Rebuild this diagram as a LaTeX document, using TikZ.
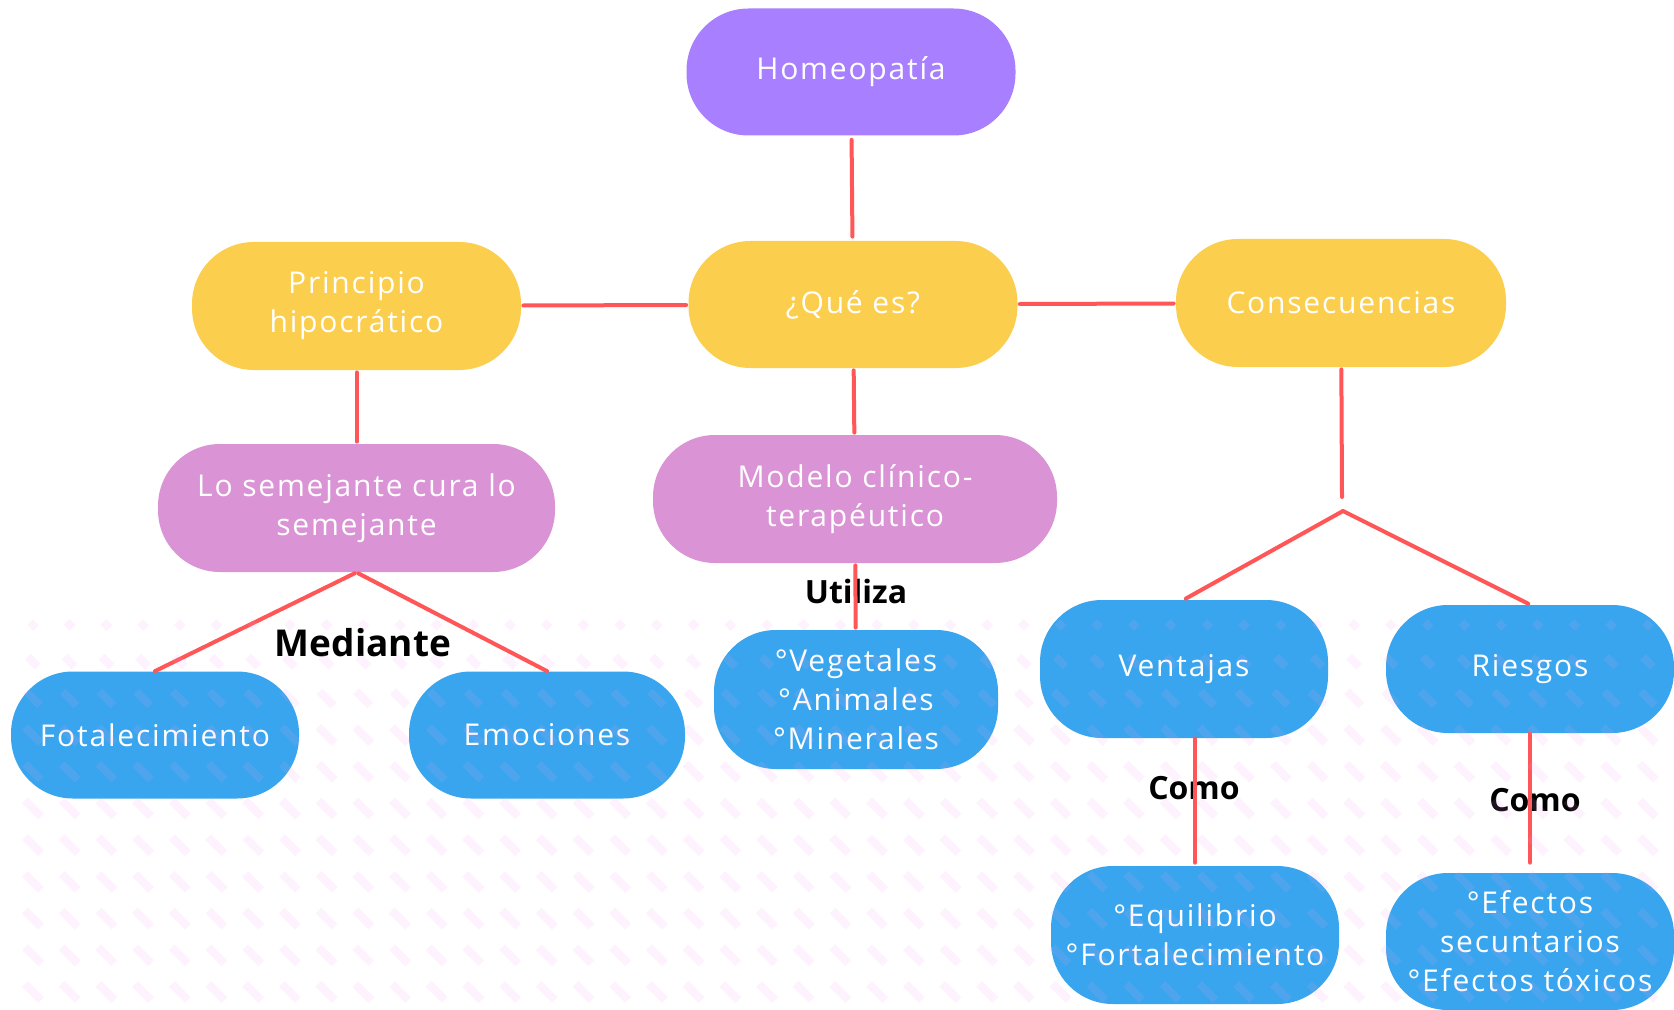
\documentclass[tikz,border=0pt]{standalone}
\usepackage{fontspec}
\setmainfont{Open Sans}[LetterSpace=6]
\newfontfamily\tagfont{Open Sans}
\usetikzlibrary{positioning}
\definecolor{homeocol}{RGB}{168,128,255}
\definecolor{yellowcol}{RGB}{251,206,77}
\definecolor{pinkcol}{RGB}{218,148,214}
\definecolor{bluecol}{RGB}{56,165,238}
\definecolor{linecol}{RGB}{255,87,87}
\definecolor{patcol}{RGB}{240,160,240}

\begin{document}
\begin{tikzpicture}[x=0.5pt,y=-0.5pt,
    pill/.style={rounded corners=31pt, text=white, align=center, inner sep=0pt,
      font=\fontsize{15}{19.5}\selectfont},
    link/.style={draw=linecol, line width=2pt, line cap=round},
    tag/.style={font=\tagfont\bfseries\fontsize{16}{18}\selectfont}]
                \useasboundingbox (0,0) rectangle (1674,1010);
                \fill[white] (0,0) rectangle (1674,1010);

                % Main topic
                \node[pill, fill=homeocol, minimum width=164.5pt, minimum height=63.5pt] (homeo) at (851,72) {Homeopatía};

                % Second level
                \node[pill, fill=yellowcol, minimum width=164.5pt, minimum height=63.5pt] (quees) at (853,304.5) {¿Qué es?};
                \node[pill, fill=yellowcol, minimum width=164.5pt, minimum height=64pt] (princ) at (356.5,306) {Principio\\hipocrático};
                \node[pill, fill=yellowcol, minimum width=165pt, minimum height=64pt] (conse) at (1341,303) {Consecuencias};

                % Third level
                \node[pill, fill=pinkcol, minimum width=198.5pt, minimum height=64pt] (semej) at (356.5,508) {Lo semejante cura lo\\semejante};
                \node[pill, fill=pinkcol, minimum width=202pt, minimum height=64pt] (modelo) at (855,499) {Modelo clínico-\\terapéutico};

                % Leaves
                \node[pill, fill=bluecol, minimum width=144pt, minimum height=63.5pt] (fotal) at (155,735) {Fotalecimiento};
                \node[pill, fill=bluecol, minimum width=138pt, minimum height=63.5pt] (emoc) at (547,735) {Emociones};
                \node[pill, fill=bluecol, minimum width=142pt, minimum height=69.5pt] (veget) at (856,699.5) {°Vegetales\\°Animales\\°Minerales};
                \node[pill, fill=bluecol, minimum width=144pt, minimum height=69pt] (ventaj) at (1184,669) {Ventajas};
                \node[pill, fill=bluecol, minimum width=144pt, minimum height=64pt] (riesg) at (1530,669) {Riesgos};
                \node[pill, fill=bluecol, minimum width=144pt, minimum height=69pt] (equil) at (1195,935) {°Equilibrio\\°Fortalecimiento};
                \node[pill, fill=bluecol, minimum width=144pt, minimum height=68.5pt] (efect) at (1530,941.5) {°Efectos\\secuntarios\\°Efectos tóxicos};

                % Link words
                \node[tag, font=\tagfont\bfseries\fontsize{18.5}{20}\selectfont] (mediante) at (363,643) {Mediante};
                \node[tag] (utiliza) at (856,591.5) {Utiliza};
                \node[tag] (como1) at (1194,788) {Como};
                \node[tag] (como2) at (1535,800) {Como};

                % Connectors
                \draw[link, shorten <=2pt, shorten >=2pt] (homeo) -- (quees);
                \draw[link, shorten <=1pt, shorten >=1pt] (princ) -- (quees);
                \draw[link, shorten <=1pt, shorten >=1pt] (quees) -- (conse);
                \draw[link, shorten <=1pt, shorten >=1pt] (princ) -- (semej);
                \draw[link, shorten <=1pt, shorten >=1pt] (quees) -- (modelo);
                \draw[link, shorten <=1pt] (semej.south) -- (fotal.north);
                \draw[link, shorten <=1pt] (semej.south) -- (emoc.north);
                \draw[link, shorten <=1pt, shorten >=1pt] (modelo) -- (veget);

                \coordinate (cend) at (1342,497);
                \coordinate (fork) at (1343,511);
                \draw[link, shorten <=1pt] (conse) -- (cend);
                \draw[link, shorten >=1pt] (fork) -- (ventaj.north);
                \draw[link, shorten >=1pt] (fork) -- (riesg.north);
                \draw[link, shorten >=1.5pt] (ventaj.south -| equil.north) -- (equil.north);
                \draw[link, shorten >=5pt] (riesg.south -| efect.north) -- (efect.north);

                % Background pattern
                \foreach \r [evaluate=\r as \len using {min(6+4*\r,16)}] in {0,...,10}
                  \foreach \c in {0,...,45}
                    \draw[patcol, opacity=0.13, line width=4pt]
                      ({33+36.7*\c},{625+36.7*\r}) ++(-\len/2,-\len/2) -- ++(\len,\len);
            \end{tikzpicture}
\end{document}
